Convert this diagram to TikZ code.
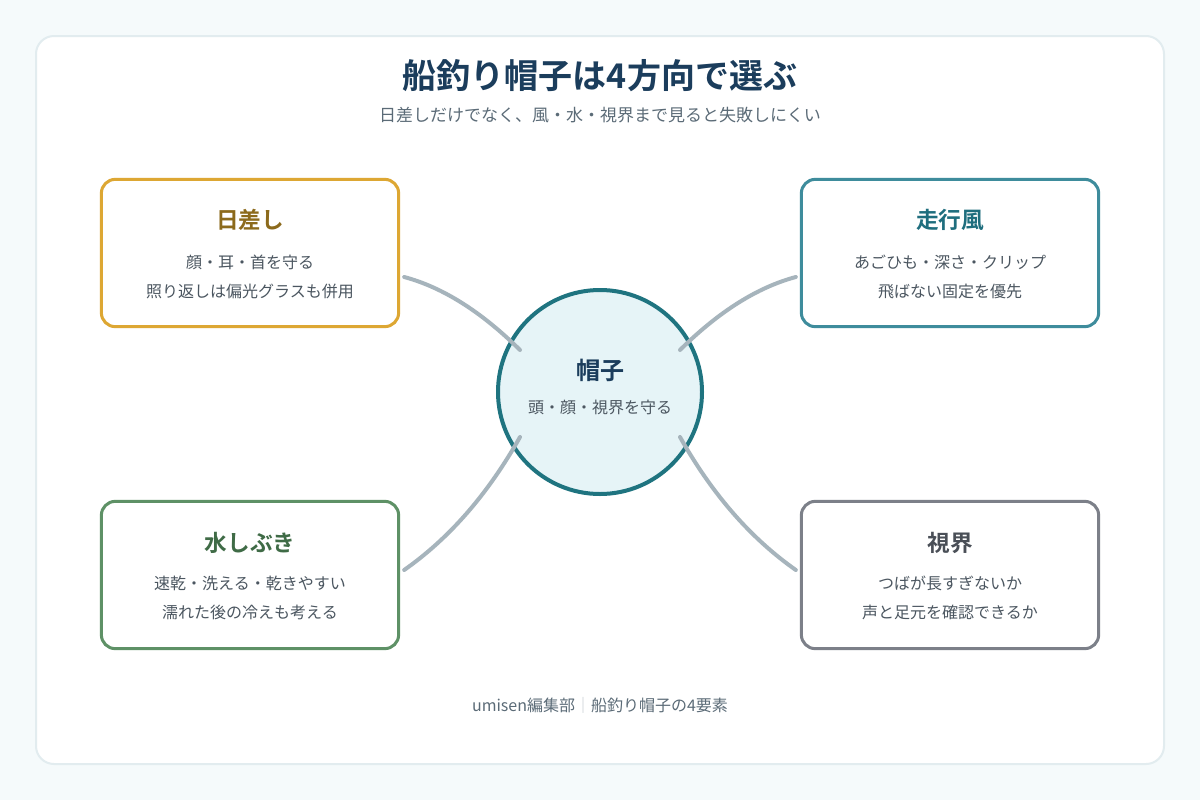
\documentclass[tikz,border=0pt]{standalone}
\usepackage{fontspec}
\setmainfont{Noto Sans CJK JP}[BoldFont={Noto Sans CJK JP Bold}]
\usepackage{xcolor}
\usetikzlibrary{positioning,calc}

\definecolor{pageBg}{HTML}{F5FAFB}
\definecolor{cardLine}{HTML}{E2ECEF}
\definecolor{navy}{HTML}{1B3D5C}
\definecolor{subGray}{HTML}{5B6B77}
\definecolor{bodyGray}{HTML}{4B5660}
\definecolor{sunLine}{HTML}{DDA733}
\definecolor{sunText}{HTML}{8C6A1C}
\definecolor{windLine}{HTML}{3E8C9C}
\definecolor{windText}{HTML}{1F6E7E}
\definecolor{sprayLine}{HTML}{5E9166}
\definecolor{sprayText}{HTML}{3F6B46}
\definecolor{viewLine}{HTML}{7C8089}
\definecolor{viewText}{HTML}{4A4F57}
\definecolor{hatFill}{HTML}{E6F4F7}
\definecolor{hatLine}{HTML}{1F7480}
\definecolor{linkGray}{HTML}{A6B4BC}
\definecolor{sepGray}{HTML}{C5CDD2}

\begin{document}
\begin{tikzpicture}[
    x=0.75pt, y=-0.75pt,
    card/.style={
        rectangle, rounded corners=10.5pt, line width=2.25pt, fill=white,
        minimum width=223pt, minimum height=110.5pt, inner sep=0pt
    },
    cardTitle/.style={
        inner sep=0pt, font=\bfseries\fontsize{17}{20}\selectfont
    },
    cardBody/.style={
        inner sep=0pt, align=center, text=bodyGray,
        font=\fontsize{12}{21.75}\selectfont
    },
    hub/.style={
        circle, draw=hatLine, line width=3pt, fill=hatFill,
        minimum size=153pt, inner sep=0pt
    },
    link/.style={
        draw=linkGray, line width=3pt, line cap=round
    }
]

% Page and card
\useasboundingbox (0,0) rectangle (1200,800);
\fill[pageBg] (0,0) rectangle (1200,800);
\draw[cardLine, fill=white, line width=1.5pt, rounded corners=13.5pt] (36,36) rectangle (1164,764);

% Heading
\node[inner sep=0pt, text=navy, font=\bfseries\fontsize{25.5}{30}\selectfont] (title) at (600,76) {船釣り帽子は4方向で選ぶ};
\node[inner sep=0pt, text=subGray, font=\fontsize{12.75}{15}\selectfont] (subtitle) at (600,115) {日差しだけでなく、風・水・視界まで見ると失敗しにくい};

% Centre
\node[hub] (hat) at (600,392) {};
\node[inner sep=0pt, text=navy, font=\bfseries\fontsize{18}{22}\selectfont] (hatTitle) at (600,370) {帽子};
\node[inner sep=0pt, text=bodyGray, font=\fontsize{12}{15}\selectfont] (hatBody) at (600,407) {頭・顔・視界を守る};

% Four cards
\node[card, draw=sunLine] (sun) at (250,253) {};
\node[cardTitle, text=sunText] (sunTitle) at (250,220) {日差し};
\node[cardBody] (sunBody) at (250,277) {顔・耳・首を守る\\照り返しは偏光グラスも併用};

\node[card, draw=windLine] (wind) at (950,253) {};
\node[cardTitle, text=windText] (windTitle) at (950,220) {走行風};
\node[cardBody] (windBody) at (950,277) {あごひも・深さ・クリップ\\飛ばない固定を優先};

\node[card, draw=sprayLine] (spray) at (250,575) {};
\node[cardTitle, text=sprayText] (sprayTitle) at (250,543) {水しぶき};
\node[cardBody] (sprayBody) at (250,598) {速乾・洗える・乾きやすい\\濡れた後の冷えも考える};

\node[card, draw=viewLine] (view) at (950,575) {};
\node[cardTitle, text=viewText] (viewTitle) at (950,543) {視界};
\node[cardBody] (viewBody) at (950,598) {つばが長すぎないか\\声と足元を確認できるか};

% Link ends
\coordinate (sunEnd) at ($(sun.east)+(4,24)$);
\coordinate (windEnd) at ($(wind.west)+(-4,24)$);
\coordinate (sprayEnd) at ($(spray.east)+(4,-5)$);
\coordinate (viewEnd) at ($(view.west)+(-4,-5)$);
\coordinate (hatNW) at ($(hat.center)+(-80,-42)$);
\coordinate (hatNE) at ($(hat.center)+(80,-42)$);
\coordinate (hatSW) at ($(hat.center)+(-80,45)$);
\coordinate (hatSE) at ($(hat.center)+(80,45)$);

% Links
\draw[link] (sunEnd) .. controls (442.7,287.3) and (481.3,311.7) .. (hatNW);
\draw[link] (windEnd) .. controls (757.3,287.3) and (718.7,311.7) .. (hatNE);
\draw[link] (sprayEnd) .. controls (449.3,538.3) and (488,494) .. (hatSW);
\draw[link] (viewEnd) .. controls (750.7,538.3) and (712,494) .. (hatSE);

% Footer
\node[inner sep=0pt, text=subGray, font=\fontsize{12}{14}\selectfont] (footer) at (600,705) {umisen編集部{\color{sepGray}｜}船釣り帽子の4要素};

\end{tikzpicture}
\end{document}
